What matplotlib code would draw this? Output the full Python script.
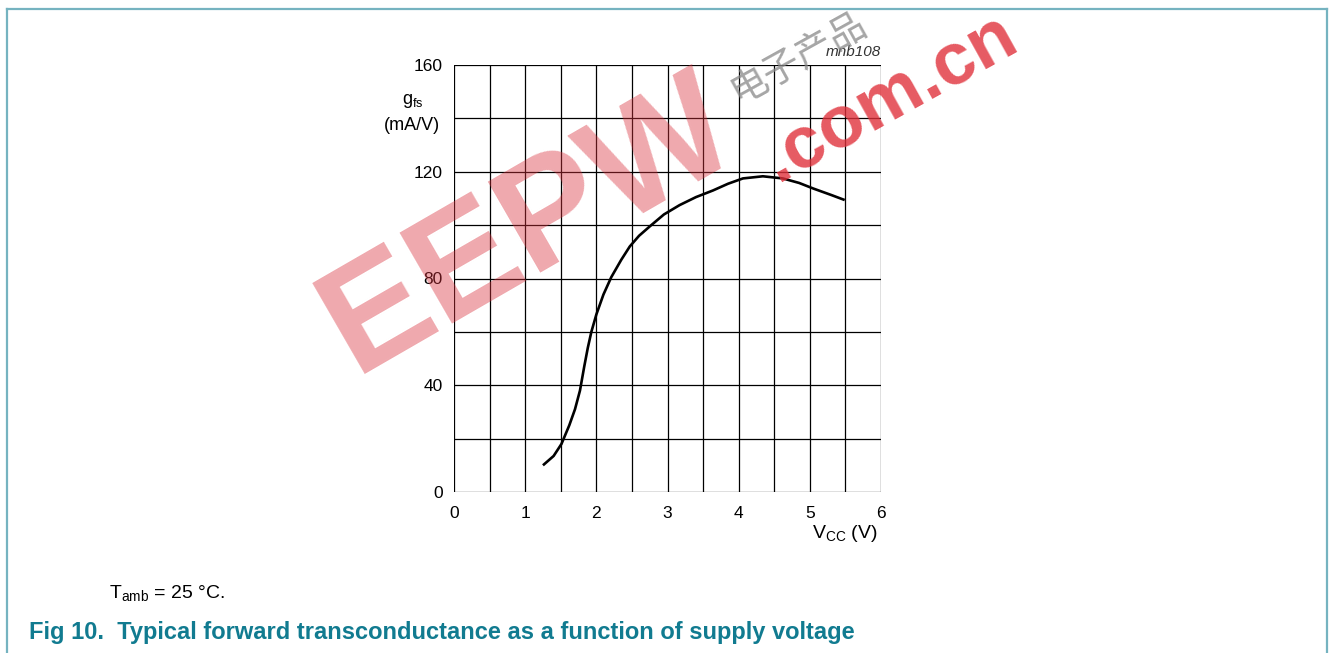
import matplotlib
matplotlib.use("Agg")
import matplotlib.pyplot as plt
from matplotlib.lines import Line2D

plt.rcParams["font.family"] = ["Liberation Sans", "DejaVu Sans"]
plt.rcParams["mathtext.fontset"] = "custom"
plt.rcParams["mathtext.rm"] = "Liberation Sans"
plt.rcParams["mathtext.it"] = "Liberation Sans:italic"

# supply voltage (V) vs forward transconductance (mA/V)
vcc = [1.25, 1.40, 1.51, 1.62, 1.70, 1.77, 1.83, 1.88, 1.93, 2.00, 2.10, 2.21,
       2.35, 2.47, 2.60, 2.75, 2.95, 3.17, 3.40, 3.64, 3.85, 4.06, 4.34, 4.62,
       4.85, 5.05, 5.30, 5.49]
gfs = [10, 13.5, 18, 25, 31, 38, 47, 54, 60, 66.5, 74, 80.5,
       87, 92, 96, 99.5, 104, 107.5, 110.5, 113, 115.5, 117.5, 118.3, 117.5,
       115.8, 113.7, 111.3, 109.4]

x_ticks = [0, 1, 2, 3, 4, 5, 6]
y_ticks = [0, 40, 80, 120, 160]
x_grid = [0.5 * i for i in range(13)]
y_grid = [20 * i for i in range(9)]

TEAL = "#75b3c0"
TITLE = "#117b90"

fig = plt.figure(figsize=(13.29, 6.53), dpi=100)
W, H = 1329, 653


def fx(px):
    return px / W


def fy(py):
    return 1 - py / H


# frame of the datasheet figure
fig.add_artist(Line2D([fx(7), fx(1327)], [fy(8.5), fy(8.5)], color=TEAL, lw=1.6))
fig.add_artist(Line2D([fx(7), fx(7)], [fy(8.5), 0], color=TEAL, lw=1.6))
fig.add_artist(Line2D([fx(1327), fx(1327)], [fy(8.5), 0], color=TEAL, lw=1.6))

ax = fig.add_axes([fx(454), fy(492), fx(881) - fx(454), fy(65) - fy(492)])
ax.set_xlim(0, 6)
ax.set_ylim(0, 160)
for v in x_grid:
    ax.axvline(v, color="black", lw=0.9, zorder=1)
for v in y_grid:
    ax.axhline(v, color="black", lw=0.9, zorder=1)
for s in ax.spines.values():
    s.set_visible(False)
ax.set_xticks(x_ticks)
ax.set_yticks(y_ticks)
ax.tick_params(length=0, labelsize=12.5, pad=8)
ax.tick_params(axis="x", pad=10)

ax.plot(vcc, gfs, color="black", lw=1.9, zorder=3, solid_capstyle="butt")

fig.text(fx(413), fy(101), r"g$_{\rm fs}$", fontsize=13, ha="center", va="center")
fig.text(fx(412), fy(126), "(mA/V)", fontsize=13, ha="center", va="center")
fig.text(fx(845), fy(534), r"V$_{\rm CC}$ (V)", fontsize=14, ha="center", va="center")
fig.text(fx(881), fy(52), "mnb108", fontsize=11, style="italic", color="#333333",
         ha="right", va="center")

fig.text(fx(109), fy(593), r"T$_{\rm amb}$ = 25 $\degree$C.", fontsize=14, ha="left", va="center")
fig.text(fx(29), fy(633), "Fig 10.  Typical forward transconductance as a function of supply voltage",
         fontsize=17, fontweight="bold", color=TITLE, ha="left", va="center")

# watermark
fig.text(fx(530), fy(228), "EEPW", fontsize=110, fontweight="bold", color="#d9323d",
         alpha=0.42, rotation=30, ha="center", va="center", zorder=5)
fig.text(fx(890), fy(98), ".com.cn", fontsize=53, fontweight="bold", color="#e0313b",
         alpha=0.8, rotation=29, ha="center", va="center", zorder=5)
fig.text(fx(798), fy(58), "电子产品", fontsize=27, color="#888888", alpha=0.75,
         rotation=29, ha="center", va="center", zorder=5,
         family=["Noto Sans CJK SC", "DejaVu Sans"])

fig.savefig("out.png", dpi=100, facecolor="white")
